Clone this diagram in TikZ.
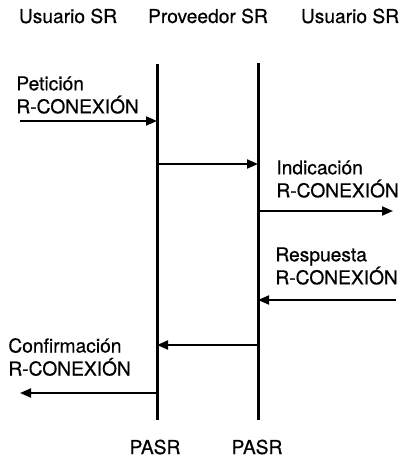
\documentclass[tikz,border=0pt]{standalone}
\usepackage{fontspec}
\setmainfont{TeX Gyre Heros}[FakeBold=0.5]
\usetikzlibrary{arrows.meta,positioning,calc}

\begin{document}
\begin{tikzpicture}[
x=0.5pt,y=-0.5pt,
every node/.style={inner sep=0pt,font=\fontsize{9.6}{11.5}\selectfont},
life/.style={line width=1.5pt},
arr/.style={-{Triangle[length=5.5pt,width=4.5pt]},line width=1pt},
lab/.style={align=left,anchor=west}
]
\useasboundingbox (0,0) rectangle (403,460);
% cabeceras
\node (usrA) at (68,16) {Usuario SR};
\node (prov) at (208,16) {Proveedor SR};
\node (usrB) at (350,16) {Usuario SR};
% lineas de los PASR
\coordinate (topA) at (157,64);
\coordinate (botA) at (157,420);
\coordinate (topB) at (258,63);
\coordinate (botB) at (258,420);
\draw[life] (topA) -- (botA);
\draw[life] (topB) -- (botB);
\node (pasrA) at (155,447) {PASR};
\node (pasrB) at (257,447) {PASR};
% primitivas
\node[lab] (pet) at (16,95) {Petición\\R-CONEXIÓN};
\node[lab] (ind) at (276,179) {Indicación\\R-CONEXIÓN};
\node[lab] (res) at (275,266) {Respuesta\\R-CONEXIÓN};
\node[lab] (con) at (8,357) {Confirmación\\R-CONEXIÓN};
\coordinate (petIn) at (20,121);
\coordinate (paso) at (157,164);
\coordinate (indOut) at (393,211);
\coordinate (resIn) at (396,300);
\coordinate (vuelta) at (258,345);
\coordinate (conOut) at (20,393);
\draw[arr] (petIn) -- (topA |- petIn);
\draw[arr] (paso) -- (topB |- paso);
\draw[arr] (topB |- indOut) -- (indOut);
\draw[arr] (resIn) -- (topB |- resIn);
\draw[arr] (vuelta) -- (topA |- vuelta);
\draw[arr] (topA |- conOut) -- (conOut);
\end{tikzpicture}
\end{document}
